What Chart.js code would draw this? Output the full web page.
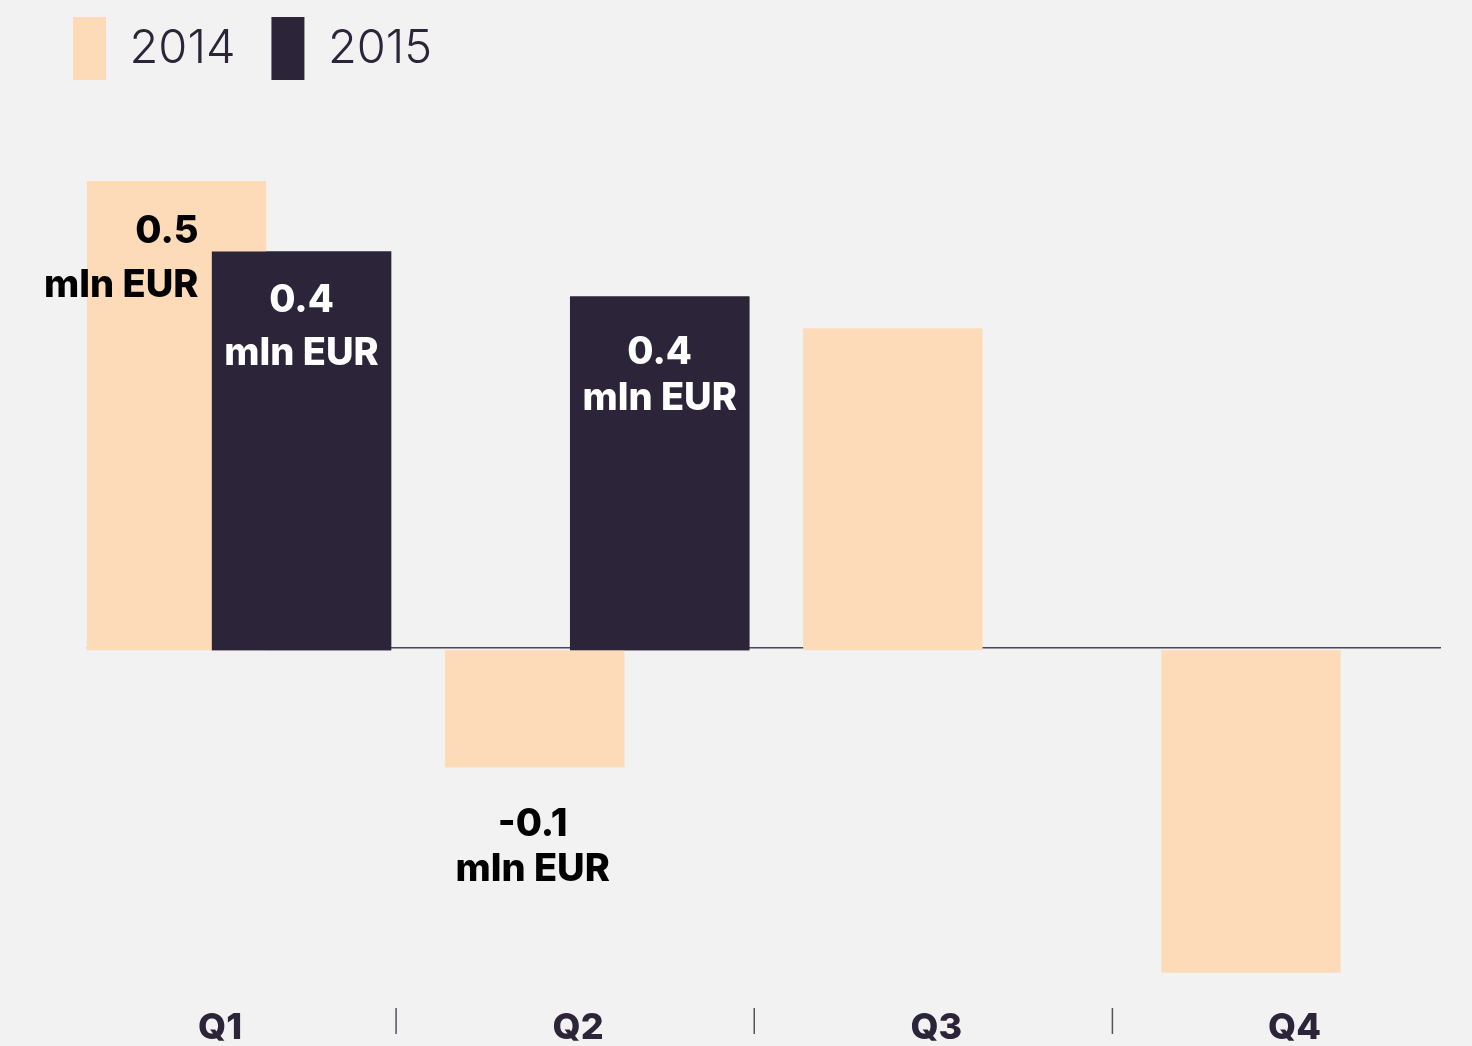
<!DOCTYPE html>
<html>
<head>
<meta charset="utf-8">
<title>Quarterly result 2014 vs 2015</title>
<script src="https://cdn.jsdelivr.net/npm/chart.js@4"></script>
<style>
  html, body { margin: 0; padding: 0; background: #f2f2f2; }
  canvas { display: block; }
</style>
</head>
<body>
<canvas id="BarChart" width="1472" height="1046"></canvas>
<script>
// data (mln EUR)
const quarters = ["Q1", "Q2", "Q3", "Q4"];
const years = ["2014", "2015"];
const values2014 = [0.5, -0.125, 0.343, -0.344];
const values2015 = [0.425, 0.377, null, null];
const valueLabels2014 = ["0.5", "-0.1", null, null];
const valueLabels2015 = ["0.4", "0.4", null, null];
const unitText = "mln EUR";

const peach = "#fddbb9";
const dark = "#2c2539";
const textDark = "#2c2438";

// where each value label sits relative to its bar
const labelPlacement = [
  [
    { align: "right", dx: 22, dy: 62, gap: 54, color: "#000" },
    { align: "center", dx: -2, dy: 69, gap: 45, color: "#000" },
  ],
  [
    { align: "center", dx: 0, dy: 61, gap: 53, color: "#fff" },
    { align: "center", dx: 0, dy: 68, gap: 46, color: "#fff" },
  ],
];

const toPoints = (values) => values.map((v, i) => ({ x: i, y: v }));

const decorations = {
  id: "decorations",
  beforeDatasetsDraw(chart) {
    const { ctx, chartArea, scales } = chart;
    const first = chart.getDatasetMeta(0).data[0];
    const y0 = scales.y.getPixelForValue(0) - 2.5;
    ctx.save();
    ctx.strokeStyle = "#4b4752";
    ctx.lineWidth = 1.5;
    ctx.beginPath();
    ctx.moveTo(first.x - first.width / 2, y0);
    ctx.lineTo(chartArea.right, y0);
    ctx.stroke();
    ctx.restore();
  },
  afterDatasetsDraw(chart) {
    const { ctx } = chart;
    // 2015 bars sit on top of the 2014 ones
    chart.getDatasetMeta(1).controller.draw();

    const texts = [valueLabels2014, valueLabels2015];
    ctx.save();
    ctx.font = "800 38px Inter";
    ctx.textBaseline = "alphabetic";
    texts.forEach((list, ds) => {
      const meta = chart.getDatasetMeta(ds);
      list.forEach((text, i) => {
        if (!text) return;
        const bar = meta.data[i];
        const p = labelPlacement[ds][i];
        ctx.fillStyle = p.color;
        ctx.textAlign = p.align;
        ctx.fillText(text, bar.x + p.dx, bar.y + p.dy);
        ctx.fillText(unitText, bar.x + p.dx, bar.y + p.dy + p.gap);
      });
    });
    ctx.restore();
  },
  afterDraw(chart) {
    const { ctx } = chart;
    const xs = chart.scales.x;
    ctx.save();
    ctx.strokeStyle = "#55525c";
    ctx.lineWidth = 1.5;
    for (let i = 0; i < quarters.length - 1; i++) {
      const x = (xs.getPixelForValue(i) + xs.getPixelForValue(i + 1)) / 2 - 22;
      ctx.beginPath();
      ctx.moveTo(x, xs.top + 6);
      ctx.lineTo(x, xs.top + 32);
      ctx.stroke();
    }
    ctx.restore();
  },
};

const ctx = document.getElementById("BarChart").getContext("2d");

new Chart(ctx, {
  type: "bar",
  data: {
    datasets: [
      {
        label: years[0],
        data: toPoints(values2014),
        backgroundColor: peach,
        borderWidth: 0,
      },
      {
        label: years[1],
        data: toPoints(values2015),
        backgroundColor: dark,
        borderWidth: 0,
      },
    ],
  },
  options: {
    responsive: false,
    animation: false,
    categoryPercentage: 0.698,
    barPercentage: 1.435,
    layout: {
      padding: { top: -19, left: 37, right: 31, bottom: 0 },
    },
    plugins: {
      tooltip: { enabled: false },
      legend: {
        position: "top",
        align: "start",
        labels: {
          boxWidth: 33,
          boxHeight: 63,
          padding: 36,
          color: textDark,
          font: { family: "Inter", size: 47, weight: "300" },
        },
      },
    },
    scales: {
      x: {
        type: "linear",
        offset: false,
        min: -0.564,
        max: 3.356,
        grid: { display: false },
        border: { display: false },
        afterBuildTicks: (scale) => {
          scale.ticks = quarters.map((q, i) => ({ value: i }));
        },
        ticks: {
          padding: 0,
          labelOffset: -19,
          autoSkip: false,
          maxRotation: 0,
          color: textDark,
          font: { family: "Inter", size: 36, weight: "800", lineHeight: 1 },
          callback: (value) => quarters[value],
        },
      },
      y: {
        display: false,
        min: -0.3751,
        max: 0.5971,
      },
    },
  },
  plugins: [decorations],
});
</script>
</body>
</html>
